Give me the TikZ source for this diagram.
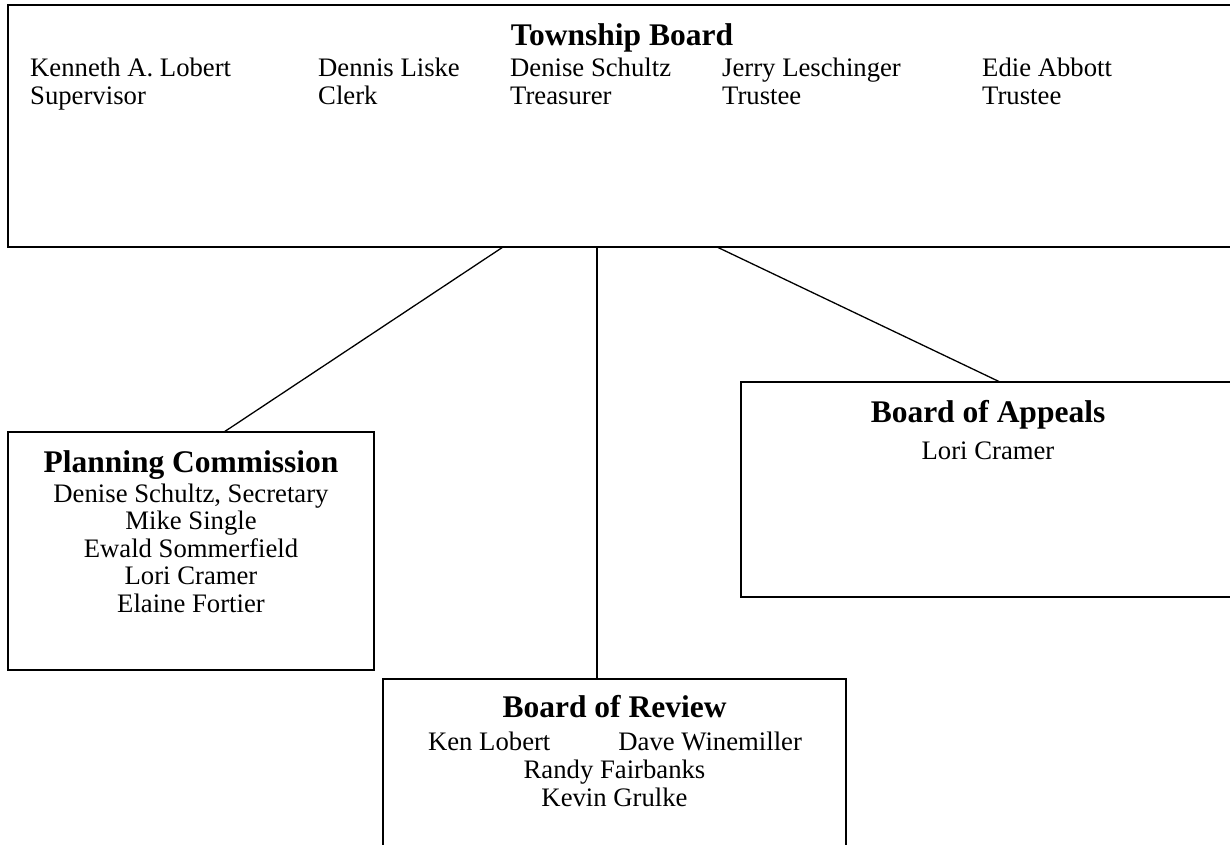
\documentclass[tikz,border=0pt]{standalone}
\usepackage{fontspec}
\setmainfont{Liberation Serif}
\newcommand\ttlfont{\fontsize{31.5}{36}\selectfont\bfseries}
\newcommand\txtfont{\fontsize{26.7}{28}\selectfont}
\begin{document}
\begin{tikzpicture}[x=1pt,y=-1pt,
  box/.style={draw=black,fill=none,inner sep=0pt,outer sep=0pt,anchor=north west,line width=1.2pt},
  topbox/.style={box,line width=2pt},
  ttl/.style={inner sep=0pt,anchor=base,font=\ttlfont},
  txt/.style={inner sep=0pt,anchor=base,font=\txtfont},
  txtl/.style={inner sep=0pt,anchor=base west,font=\txtfont},
  link/.style={draw=black,line width=1.3pt}]
\useasboundingbox (0,0) rectangle (1230,844);
\fill[white] (0,0) rectangle (1230,844);

% boxes
\node[topbox,minimum width=1240pt,minimum height=242pt] (tb) at (8,5) {};
\node[box,minimum width=366pt,minimum height=238pt] (pc) at (8,432) {};
\node[box,minimum width=500pt,minimum height=215pt] (ba) at (741,382) {};
\node[box,minimum width=463pt,minimum height=200pt] (br) at (383,679) {};

% connectors
\draw[link] ([xshift=495pt]tb.south west) -- ([xshift=216pt]pc.north west);
\draw[link] ([xshift=589pt]tb.south west) -- ([xshift=214pt]br.north west);
\draw[link] ([xshift=709pt]tb.south west) -- ([xshift=259pt]ba.north west);

% Township Board
\node[ttl] (tbt) at (622,45) {Township Board};
\node[txtl] (n1) at (30,76) {Kenneth A. Lobert};
\node[txtl] (n2) at (318,76) {Dennis Liske};
\node[txtl] (n3) at (510,76) {Denise Schultz};
\node[txtl] (n4) at (722,76) {Jerry Leschinger};
\node[txtl] (n5) at (982,76) {Edie Abbott};
\node[txtl] (r1) at (30,104.5) {Supervisor};
\node[txtl] (r2) at (318,104.5) {Clerk};
\node[txtl] (r3) at (510,104.5) {Treasurer};
\node[txtl] (r4) at (722,104.5) {Trustee};
\node[txtl] (r5) at (982,104.5) {Trustee};

% Planning Commission
\node[ttl] (pct) at (191,472) {Planning Commission};
\node[txt] (p1) at (191,502) {Denise Schultz, Secretary};
\node[txt] (p2) at (191,529.5) {Mike Single};
\node[txt] (p3) at (191,557) {Ewald Sommerfield};
\node[txt] (p4) at (191,584.5) {Lori Cramer};
\node[txt] (p5) at (191,612) {Elaine Fortier};

% Board of Appeals
\node[ttl] (bat) at (988,422) {Board of Appeals};
\node[txt] (a1) at (988,459) {Lori Cramer};

% Board of Review
\node[ttl] (brt) at (614.5,717) {Board of Review};
\node[txt] (b1) at (615,750) {Ken Lobert\hspace{68pt}Dave Winemiller};
\node[txt] (b2) at (614.5,778) {Randy Fairbanks};
\node[txt] (b3) at (614.5,806) {Kevin Grulke};
\end{tikzpicture}
\end{document}
